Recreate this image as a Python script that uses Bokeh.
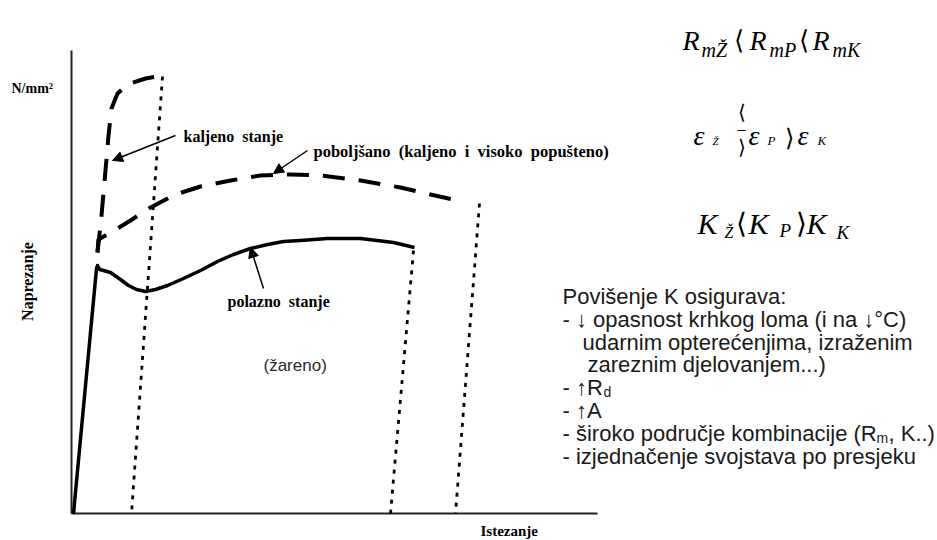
from math import pi
from bokeh.plotting import figure
from bokeh.models import Range1d, Label, Arrow, NormalHead
from bokeh.embed import file_html
from bokeh.resources import INLINE

# ---- data (strain / stress in arbitrary units) ----
polazno_strain = [2, 25, 26, 28, 32, 39, 49, 57, 65, 74, 84, 96, 112, 129, 146, 162, 179, 196, 212, 229, 256, 289, 322, 343]
polazno_stress = [0, 245, 248, 244, 243, 241, 234, 228, 224, 222, 224, 228, 235, 243, 252, 259, 265, 269, 272, 273, 275, 275, 271, 266]

poboljsano_strain = [26, 27, 41, 59, 79, 104, 129, 159, 189, 219, 249, 289, 329, 359, 391]
poboljsano_stress = [261, 274, 282, 293, 306, 319, 327, 333, 338, 339, 338, 333, 326, 319, 312]

kaljeno_strain = [26, 30, 34, 37, 40, 46, 56, 74, 91]
kaljeno_stress = [261, 298, 343, 378, 405, 420, 429, 435, 438]

unload_strain_top = [91, 342, 408]
unload_stress_top = [437, 263, 310]
fracture_strain = [60, 319, 384]

axis_strain_max = 526
axis_stress_max = 463

# ---- layout helpers (reference pixel -> data) ----
W, H = 937, 540
OX, OY = 71, 513


def X(px):
    return px - OX


def Y(py):
    return OY - py


p = figure(width=W, height=H, output_backend="svg", toolbar_location=None,
           x_range=Range1d(X(0), X(W)), y_range=Range1d(Y(H), Y(0)),
           min_border=0, x_axis_location=None, y_axis_location=None)
p.xgrid.grid_line_color = None
p.ygrid.grid_line_color = None
p.outline_line_color = None
p.background_fill_color = "white"
p.border_fill_color = "white"

# axes lines
p.segment(x0=[0, 0], y0=[0, 0], x1=[axis_strain_max, 0], y1=[0, axis_stress_max],
          line_width=2, line_color="#222222")

# curves
p.line(polazno_strain, polazno_stress, line_width=3.5, line_color="black", line_join="round")
p.line(poboljsano_strain, poboljsano_stress, line_width=4, line_color="black",
       line_dash="22 14", line_join="round")
p.line(kaljeno_strain, kaljeno_stress, line_width=4, line_color="black",
       line_dash="22 14", line_join="round")
p.multi_line(xs=[[t, f] for t, f in zip(unload_strain_top, fracture_strain)],
             ys=[[s, 0] for s in unload_stress_top],
             line_width=2.8, line_color="black", line_dash="4 6")

# arrows
for (x0, y0, x1, y1) in [(175, 135, 112, 160), (307, 150, 273, 173), (263, 288, 250, 247)]:
    p.add_layout(Arrow(end=NormalHead(size=10, fill_color="black", line_color="black"),
                       x_start=X(x0), y_start=Y(y0), x_end=X(x1), y_end=Y(y1),
                       line_width=1.5, line_color="black"))


def lab(text, px, py, size, font="Liberation Serif", style="bold", align="left",
        baseline="middle", color="black", angle=0.0):
    p.add_layout(Label(x=X(px), y=Y(py), text=text, text_font=font,
                       text_font_size=f"{size}px", text_font_style=style,
                       text_align=align, text_baseline=baseline,
                       text_color=color, angle=angle))


S2 = " \u00a0"  # wide (double) word gap
# diagram labels
lab(S2.join(["kaljeno", "stanje"]), 183, 136, 16)
lab(S2.join(["poboljšano", "(kaljeno", "i", "visoko", "popušteno)"]), 313, 151, 16.5)
lab(S2.join(["polazno", "stanje"]), 227, 301, 16)
lab("(žareno)", 263, 365, 17, font="Liberation Sans", style="normal", color="#2a2a2a")
lab("N/mm²", 11, 88, 14)
lab("Naprezanje", 27, 281, 16, align="center", angle=pi / 2)
lab("Istezanje", 480, 530, 15)

# formulas (italic serif)
MF = "Liberation Serif"
lab("R", 682, 40, 28, font=MF, style="italic", baseline="alphabetic")
lab("mŽ", 701, 49, 20, font=MF, style="italic", baseline="alphabetic")
lab("⟨", 733, 40, 26, font=MF, style="normal", baseline="alphabetic")
lab("R", 749, 40, 28, font=MF, style="italic", baseline="alphabetic")
lab("mP", 769, 49, 20, font=MF, style="italic", baseline="alphabetic")
lab("⟨", 798, 40, 26, font=MF, style="normal", baseline="alphabetic")
lab("R", 812, 40, 28, font=MF, style="italic", baseline="alphabetic")
lab("mK", 832, 49, 20, font=MF, style="italic", baseline="alphabetic")

lab("ε", 693, 135, 28, font=MF, style="italic", baseline="alphabetic")
lab("Ž", 712, 140, 11, font=MF, style="italic", baseline="alphabetic")
lab("⟨", 737, 111, 20, font=MF, style="normal")
lab("–", 737, 128, 16, font=MF, style="normal")
lab("⟩", 737, 146, 20, font=MF, style="normal")
lab("ε", 748, 135, 28, font=MF, style="italic", baseline="alphabetic")
lab("P", 767, 140, 13, font=MF, style="italic", baseline="alphabetic")
lab("⟩", 784, 137, 24, font=MF, style="normal", baseline="alphabetic")
lab("ε", 797, 135, 28, font=MF, style="italic", baseline="alphabetic")
lab("K", 817, 140, 13, font=MF, style="italic", baseline="alphabetic")

lab("K", 697, 223, 30, font=MF, style="italic", baseline="alphabetic")
lab("Ž", 724, 232, 16, font=MF, style="italic", baseline="alphabetic")
lab("⟨", 735, 223, 28, font=MF, style="normal", baseline="alphabetic")
lab("K", 748, 223, 30, font=MF, style="italic", baseline="alphabetic")
lab("P", 779, 230, 19, font=MF, style="italic", baseline="alphabetic")
lab("⟩", 795, 223, 28, font=MF, style="normal", baseline="alphabetic")
lab("K", 806, 223, 30, font=MF, style="italic", baseline="alphabetic")
lab("K", 836, 232, 19, font=MF, style="italic", baseline="alphabetic")

# text block
TF = "Liberation Sans"
TC = "#1a1a1a"
TS = 22
block = [
    ("Povišenje K osigurava:", 562, 296),
    ("- ↓ opasnost krhkog loma (i na ↓°C)", 562, 319),
    ("udarnim opterećenjima, izraženim", 582, 342),
    ("zareznim djelovanjem...)", 587, 364),
    ("- ↑R", 562, 387),
    ("- ↑A", 562, 410),
    ("- široko područje kombinacije (R", 562, 433),
    ("- izjednačenje svojstava po presjeku", 562, 456),
]
for t, px, py in block:
    lab(t, px, py, TS, font=TF, style="normal", baseline="alphabetic", color=TC)
lab("d", 603, 391, 14, font=TF, style="normal", baseline="alphabetic", color=TC)
lab("m", 876, 437, 14, font=TF, style="normal", baseline="alphabetic", color=TC)
lab(", K..)", 888, 433, TS, font=TF, style="normal", baseline="alphabetic", color=TC)

open("out.html", "w").write(file_html(p, INLINE))
